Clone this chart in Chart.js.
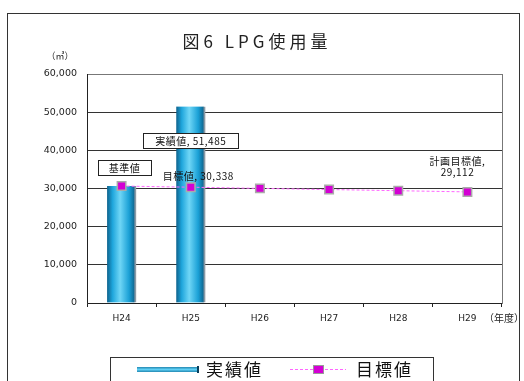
<!DOCTYPE html>
<html>
<head>
<meta charset="utf-8">
<script src="https://cdn.jsdelivr.net/npm/chart.js@4/dist/chart.umd.min.js"></script>
<style>
  html, body { margin: 0; padding: 0; background: #fff; }
  #wrap { width: 524px; height: 381px; position: relative; }
</style>
</head>
<body>
<div id="wrap"><canvas id="chart" width="524" height="381"></canvas></div>
<script>
var years = ['H24', 'H25', 'H26', 'H27', 'H28', 'H29'];
var actual = [30644, 51485, null, null, null, null];
var target = [30644, 30338, 30032, 29726, 29419, 29112];
var yTicks = [0, 10000, 20000, 30000, 40000, 50000, 60000];

var jp = '"Noto Sans CJK JP", "DejaVu Sans", sans-serif';

// gradient for the cylinder bars
function barFill(c) {
  var chart = c.chart;
  if (!chart.chartArea || !chart.scales.x) return '#29a9dc';
  var cx = chart.scales.x.getPixelForValue(c.dataIndex);
  var g = chart.ctx.createLinearGradient(cx - 15, 0, cx + 15, 0);
  g.addColorStop(0, '#0b5c86');
  g.addColorStop(0.2, '#1fa6dc');
  g.addColorStop(0.45, '#6fd6f6');
  g.addColorStop(0.75, '#1aa0d6');
  g.addColorStop(1, '#0a4f74');
  return g;
}

var decor = {
  id: 'decor',
  afterDraw: function(chart) {
    var ctx = chart.ctx, a = chart.chartArea;
    var x = chart.scales.x, y = chart.scales.y;
    ctx.save();
    // outer frame
    ctx.strokeStyle = '#333';
    ctx.lineWidth = 1;
    ctx.strokeRect(7.5, 13.5, 512, 380);
    // plot frame
    ctx.strokeStyle = '#777';
    ctx.strokeRect(a.left + 0.5, a.top + 0.5, a.right - a.left, a.bottom - a.top);
    ctx.strokeStyle = '#222';
    ctx.beginPath();
    ctx.moveTo(a.left + 0.5, a.top);
    ctx.lineTo(a.left + 0.5, a.bottom + 0.5);
    ctx.lineTo(a.right, a.bottom + 0.5);
    ctx.stroke();

    // title and units
    ctx.fillStyle = '#222';
    ctx.textBaseline = 'middle';
    ctx.textAlign = 'center';
    ctx.font = '17px ' + jp;
    ctx.letterSpacing = '4px';
    ctx.fillText('図6 LPG使用量', 257, 42);
    ctx.letterSpacing = '0px';
    ctx.font = '9px ' + jp;
    ctx.fillText('（㎥）', 60, 56);
    ctx.textAlign = 'left';
    ctx.font = '10px ' + jp;
    ctx.fillText('（年度）', 484, 318);

    // labels
    function box(text, cx, cy, w, h) {
      ctx.fillStyle = '#fff';
      ctx.fillRect(cx - w / 2, cy - h / 2, w, h);
      ctx.strokeStyle = '#222';
      ctx.strokeRect(Math.round(cx - w / 2) + 0.5, Math.round(cy - h / 2) + 0.5, w, h);
      ctx.fillStyle = '#111';
      ctx.textAlign = 'center';
      ctx.fillText(text, cx, cy + 0.5);
    }
    ctx.font = '10px ' + jp;
    ctx.letterSpacing = '0.5px';
    box('実績値, 51,485', x.getPixelForValue(1), y.getPixelForValue(42500), 95, 15);
    box('基準値', x.getPixelForValue(0) + 3, y.getPixelForValue(35500), 53, 15);
    ctx.fillStyle = '#111';
    ctx.textAlign = 'left';
    ctx.fillText('目標値, 30,338', x.getPixelForValue(1) - 28, y.getPixelForValue(33200));
    ctx.textAlign = 'center';
    ctx.fillText('計画目標値,', x.getPixelForValue(5) - 10, y.getPixelForValue(37200));
    ctx.fillText('29,112', x.getPixelForValue(5) - 10, y.getPixelForValue(34200));
    ctx.letterSpacing = '0px';

    // legend
    ctx.strokeStyle = '#333';
    ctx.strokeRect(110.5, 357.5, 323, 30);
    var lg = ctx.createLinearGradient(0, 366, 0, 373);
    lg.addColorStop(0, '#0b6a96');
    lg.addColorStop(0.5, '#5fd0f5');
    lg.addColorStop(1, '#0b6a96');
    ctx.fillStyle = lg;
    ctx.fillRect(137, 367, 62, 5);
    ctx.fillStyle = '#0a3f5c';
    ctx.fillRect(197, 366, 2, 7);
    ctx.fillStyle = '#111';
    ctx.font = '17px ' + jp;
    ctx.letterSpacing = '2px';
    ctx.textAlign = 'left';
    ctx.fillText('実績値', 206, 370);
    ctx.fillText('目標値', 356, 370);
    ctx.letterSpacing = '0px';
    ctx.strokeStyle = '#ff66ff';
    ctx.setLineDash([3, 2]);
    ctx.beginPath();
    ctx.moveTo(290, 369.5);
    ctx.lineTo(346, 369.5);
    ctx.stroke();
    ctx.setLineDash([]);
    ctx.fillStyle = '#d400d4';
    ctx.fillRect(314, 366, 9, 7);
    ctx.strokeStyle = '#999';
    ctx.strokeRect(313.5, 365.5, 10, 8);
    ctx.restore();
  }
};

new Chart(document.getElementById('chart').getContext('2d'), {
  type: 'bar',
  data: {
    labels: years,
    datasets: [{
      type: 'line',
      label: '目標値',
      data: target,
      borderColor: '#ff66ff',
      borderWidth: 1,
      borderDash: [3, 2],
      pointStyle: 'rect',
      pointRadius: 6,
      pointBackgroundColor: '#d400d4',
      pointBorderColor: '#aaa',
      pointBorderWidth: 1.5,
      order: 0
    }, {
      label: '実績値',
      data: actual,
      backgroundColor: barFill,
      borderColor: '#8a9aa6',
      borderWidth: { right: 2 },
      borderSkipped: false,
      barThickness: 29,
      order: 1
    }]
  },
  options: {
    responsive: false,
    animation: false,
    layout: { padding: { left: 37, top: 74, right: 22, bottom: 53 } },
    plugins: {
      legend: { display: false },
      tooltip: { enabled: false }
    },
    scales: {
      x: {
        offset: true,
        grid: { display: true, drawOnChartArea: false, offset: true, tickLength: 4, color: '#222' },
        border: { display: false },
        ticks: { color: '#222', font: { size: 9, family: '"DejaVu Sans", sans-serif' }, padding: 6 },
        afterFit: function(s) { s.height = 25; }
      },
      y: {
        min: 0,
        max: 60000,
        afterBuildTicks: function(s) { s.ticks = yTicks.map(function(v) { return { value: v }; }); },
        grid: { color: '#333', drawTicks: false },
        border: { display: false },
        ticks: {
          color: '#222',
          padding: 10,
          font: { size: 9.5, family: '"DejaVu Sans", sans-serif' },
          callback: function(v) { return v.toLocaleString('en-US'); }
        },
        afterFit: function(s) { s.width = 50; }
      }
    }
  },
  plugins: [decor]
});
</script>
</body>
</html>
